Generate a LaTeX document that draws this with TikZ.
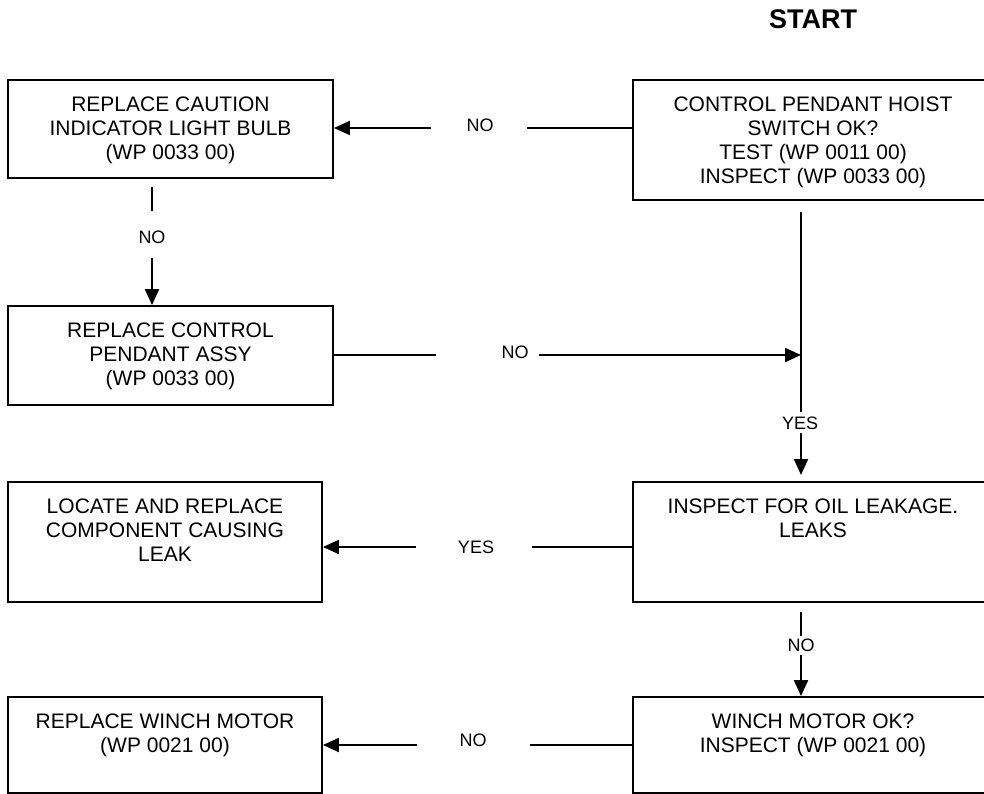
\documentclass[tikz,border=0pt]{standalone}
\usepackage{fontspec}
\setmainfont{Liberation Sans}
\usetikzlibrary{arrows.meta}
\begin{document}
\begin{tikzpicture}[x=1pt,y=-1pt,
  box/.style={draw, line width=1.8pt, inner sep=0pt},
  txt/.style={anchor=north, align=center, inner sep=0pt, font=\fontsize{21}{24}\selectfont},
  lab/.style={inner sep=0pt, font=\fontsize{18}{20}\selectfont},
  conn/.style={line width=2pt},
  arr/.style={line width=2pt, -{Triangle[length=16pt,width=14pt]}}]
\useasboundingbox (0,0) rectangle (984,794);

% START
\node[inner sep=0pt, font=\fontsize{27}{30}\selectfont\bfseries] (start) at (813,19) {START};

% boxes
\node[box, minimum width=325pt, minimum height=98pt]  (A) at (170.5,129) {};
\node[box, minimum width=360pt, minimum height=120pt] (B) at (813,140) {};
\node[box, minimum width=325pt, minimum height=99pt]  (C) at (170.5,355.5) {};
\node[box, minimum width=314pt, minimum height=120pt] (D) at (165,542) {};
\node[box, minimum width=360pt, minimum height=120pt] (E) at (813,542) {};
\node[box, minimum width=314pt, minimum height=96pt]  (F) at (165,745) {};
\node[box, minimum width=360pt, minimum height=96pt]  (G) at (813,745) {};

% box texts
\node[txt] (At) at ([yshift=-17.5pt]A.north) {REPLACE CAUTION\\INDICATOR LIGHT BULB\\(WP 0033 00)};
\node[txt] (Bt) at ([yshift=-17.5pt]B.north) {CONTROL PENDANT HOIST\\SWITCH OK?\\TEST (WP 0011 00)\\INSPECT (WP 0033 00)};
\node[txt] (Ct) at ([yshift=-17.5pt]C.north) {REPLACE CONTROL\\PENDANT ASSY\\(WP 0033 00)};
\node[txt] (Dt) at ([yshift=-17.5pt]D.north) {LOCATE AND REPLACE\\COMPONENT CAUSING\\LEAK};
\node[txt] (Et) at ([yshift=-17.5pt]E.north) {INSPECT FOR OIL LEAKAGE.\\LEAKS};
\node[txt] (Ft) at ([yshift=-17.5pt]F.north) {REPLACE WINCH MOTOR\\(WP 0021 00)};
\node[txt] (Gt) at ([yshift=-17.5pt]G.north) {WINCH MOTOR OK?\\INSPECT (WP 0021 00)};

% labels
\node[lab] (l1) at (480,125) {NO};
\node[lab] (l2) at (152,237) {NO};
\node[lab] (l3) at (515,352) {NO};
\node[lab] (l4) at (800,423) {YES};
\node[lab] (l5) at (476,547) {YES};
\node[lab] (l6) at (801,645) {NO};
\node[lab] (l7) at (473,740) {NO};

% connector coordinates
\coordinate (c1r) at (527,128); \coordinate (c1l) at (431,128);
\coordinate (c2a) at (152,187); \coordinate (c2b) at (152,211); \coordinate (c2c) at (152,258);
\coordinate (c3l) at (436,355); \coordinate (c3r) at (539,355); \coordinate (J) at (801,355);
\coordinate (m0) at (801,212); \coordinate (m1) at (801,412); \coordinate (m2) at (801,433); \coordinate (m3) at (801,475);
\coordinate (c5r) at (532,547); \coordinate (c5l) at (416,547);
\coordinate (c6a) at (801,612); \coordinate (c6b) at (801,636); \coordinate (c6c) at (801,655);
\coordinate (c7r) at (530,745); \coordinate (c7l) at (417,745);

% B -> A
\draw[conn] (B.west |- c1r) -- (c1r);
\draw[arr] (c1l) -- (c1l -| A.east);
% A -> C
\draw[conn] (c2a) -- (c2b);
\draw[arr] (c2c) -- (c2c |- C.north);
% C -> main line
\draw[conn] (C.east |- c3l) -- (c3l);
\draw[arr] (c3r) -- (J);
% B -> E
\draw[conn] (m0) -- (m1);
\draw[arr] (m2) -- (m3);
% E -> D
\draw[conn] (E.west |- c5r) -- (c5r);
\draw[arr] (c5l) -- (c5l -| D.east);
% E -> G
\draw[conn] (c6a) -- (c6b);
\draw[arr] (c6c) -- (c6c |- G.north);
% G -> F
\draw[conn] (G.west |- c7r) -- (c7r);
\draw[arr] (c7l) -- (c7l -| F.east);
\end{tikzpicture}
\end{document}
